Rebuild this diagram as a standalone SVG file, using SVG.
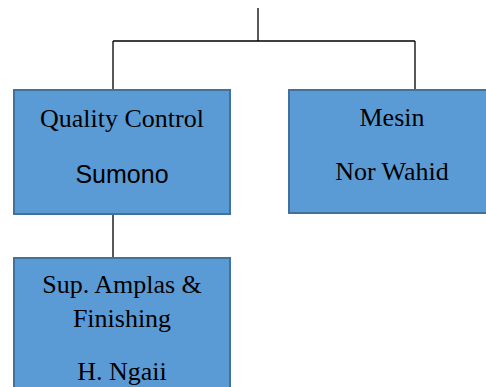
<svg xmlns="http://www.w3.org/2000/svg" width="486" height="387" viewBox="0 0 486 387">
<style>
.box{fill:#5B9BD5;stroke:#41719C;stroke-width:2}
.serif{font-family:"Liberation Serif","Times New Roman",serif;font-size:26px;fill:#000;text-anchor:middle}
.sans{font-family:"Liberation Sans",Arial,sans-serif;font-size:25px;fill:#000;text-anchor:middle}
.conn{stroke:#000;stroke-width:1.3;fill:none}
</style>
<rect width="486" height="387" fill="#fff"/>
<g id="connectors">
<path class="conn" d="M258 8V41M113 41H415M113 41V90M415 41V90M113 214V258"/>
</g>
<g id="qc">
<rect class="box" x="14" y="90" width="216" height="124"/>
<text class="serif" x="122" y="127">Quality Control</text>
<text class="sans" x="122" y="183">Sumono</text>
</g>
<g id="mesin">
<rect class="box" x="289" y="90" width="216" height="123"/>
<text class="serif" x="392" y="126">Mesin</text>
<text class="serif" x="392" y="180">Nor Wahid</text>
</g>
<g id="amplas">
<rect class="box" x="14" y="258" width="216" height="140"/>
<text class="serif" x="122" y="293">Sup. Amplas &amp;</text>
<text class="serif" x="122" y="327">Finishing</text>
<text class="serif" x="122" y="380">H. Ngaii</text>
</g>
</svg>
